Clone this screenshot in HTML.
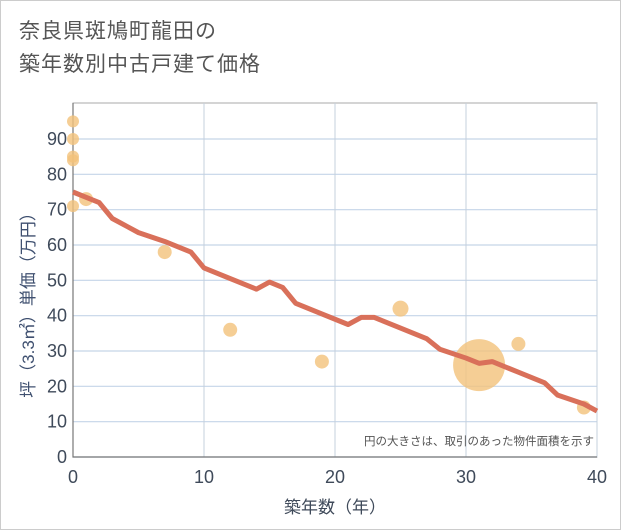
<!DOCTYPE html>
<html><head><meta charset="utf-8"><style>
body{margin:0;background:#fff;font-family:"Liberation Sans","Noto Sans CJK JP",sans-serif}
#wrap{position:relative;width:619px;height:528px;border:1px solid #ccc;background:#fff}
#title{position:absolute;left:18px;top:14px;font-size:21px;line-height:33px;color:#555;letter-spacing:1px}
svg{position:absolute;left:0;top:0}
</style></head><body>
<div id="wrap">
<div id="title">奈良県斑鳩町龍田の<br>築年数別中古戸建て価格</div>
<svg id="c" width="621" height="530"></svg>
</div>
<script>
const xTicks=[0,10,20,30,40];
const yTicks=[0,10,20,30,40,50,60,70,80,90];
const lineX=[0,1,2,3,5,7,9,10,12,14,15,16,17,19,21,22,23,25,27,28,30,31,32,34,36,37,39,40];
const lineY=[75,73.5,72,67.5,63.5,61,58,53.5,50.5,47.5,49.5,48,43.5,40.5,37.5,39.5,39.5,36.5,33.5,30.5,28,26.5,27,24,21,17.5,15,13];
const bubX=[0,0,0,0,0,1,7,12,19,25,31,34,39];
const bubY=[95,90,85,84,71,73,58,36,27,42,26,32,14];
const bubR=[6,6,6,6,6,7,7,7,7,8,26,7,7];
const NS="http://www.w3.org/2000/svg";
const svg=document.getElementById('c');
const X0=72,X1=596,Y0=456,YTOP=102,K=(456-138)/90;
const sx=v=>X0+(X1-X0)*v/40;
const sy=v=>Y0-v*K;
function mk(t,a,txt){const e=document.createElementNS(NS,t);for(const k in a)e.setAttribute(k,a[k]);if(txt!=null)e.textContent=txt;svg.appendChild(e);return e;}
let e=mk('rect',{x:X0,y:YTOP,width:X1-X0,height:Y0-YTOP,fill:'#fff',stroke:'#aaa'});


yTicks.forEach(v=>{
 let g=mk('line',{x1:X0,x2:X1,y1:sy(v),y2:sy(v),stroke:'#c5d5e8','stroke-width':1.2});
 
 
 let t=mk('text',{x:X0-6,y:sy(v)+6,'text-anchor':'end','font-size':18,fill:'#3f4a5a'},v);
 
 
});
xTicks.forEach(v=>{
 let g=mk('line',{x1:sx(v),x2:sx(v),y1:YTOP,y2:Y0,stroke:'#c5d0dc','stroke-width':1});
 
 
 let t=mk('text',{x:sx(v),y:Y0+26,'text-anchor':'middle','font-size':18,fill:'#3f4a5a'},v);
 
 
});
let ax=mk('polyline',{points:X0+','+YTOP+' '+X0+','+Y0+' '+X1+','+Y0,fill:'none',stroke:'#777','stroke-width':1.2});


bubX.forEach((v,i)=>{
 let c=mk('circle',{cx:sx(v),cy:sy(bubY[i]),r:bubR[i],fill:'#f3c27a','fill-opacity':0.8});
 
 
});
let p=mk('polyline',{points:lineX.map((v,i)=>sx(v)+','+sy(lineY[i])).join(' '),fill:'none',stroke:'#d9705a','stroke-width':5,'stroke-linejoin':'round'});


let n=mk('text',{x:593,y:444,'text-anchor':'end','font-size':11.5,fill:'#555'},'円の大きさは、取引のあった物件面積を示す');


let xt=mk('text',{x:334,y:512,'text-anchor':'middle','font-size':17,fill:'#3f4a5a'},'築年数（年）');


let yt=mk('text',{x:0,y:0,'text-anchor':'middle','font-size':17,fill:'#3f5070',transform:'translate(33,300) rotate(-90)'},'坪（3.3㎡）単価（万円）');


</script>
</body></html>
